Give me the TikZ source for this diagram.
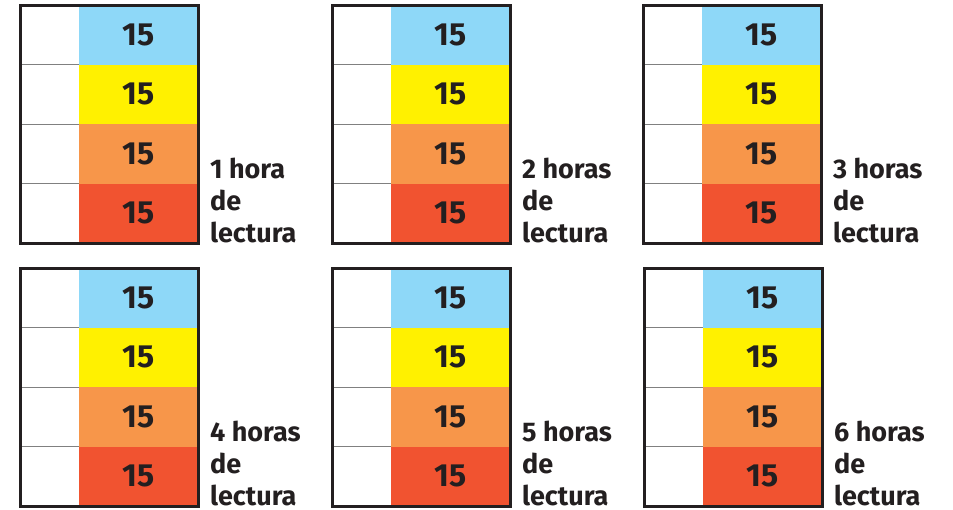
\documentclass[tikz,border=0pt]{standalone}
\usepackage{fontspec}
\setmainfont{Fira Sans}
\usetikzlibrary{positioning}
\definecolor{ink}{HTML}{231F20}
\definecolor{skyb}{HTML}{8ED8F8}
\definecolor{yel}{HTML}{FFF100}
\definecolor{ora}{HTML}{F7964A}
\definecolor{redo}{HTML}{F15330}

\begin{document}
\begin{tikzpicture}[
  x=1pt, y=-1pt,
  cell/.style={minimum width=59pt,minimum height=59.5pt,inner sep=0pt,outer sep=0pt},
  num/.style={cell,minimum width=119pt,text=ink,font=\bfseries\fontsize{32}{32}\selectfont},
  rowline/.style={draw=gray,line width=1pt},
  frame/.style={draw=ink,line width=3pt},
  hours/.style={align=left,inner sep=0pt,text=ink,font=\bfseries\fontsize{27}{32}\selectfont}
]
\useasboundingbox (0,0) rectangle (953,509);

\foreach \bx/\by/\h [count=\b] in {20/5/1 hora, 332/5/2 horas, 643/5/3 horas, 20/268/4 horas, 332/268/5 horas, 644/268/6 horas} {
  % one block of four quarters
  \foreach \r/\col in {0/skyb,1/yel,2/ora,3/redo} {
    \node[cell,anchor=north west] (w\b\r) at ({\bx},{\by+\r*59.5}) {};
    \node[num,fill=\col,right=0pt of w\b\r] (c\b\r) {15};
  }
  \foreach \r in {0,1,2}
    \draw[rowline] (w\b\r.south west) -- (w\b\r.south east);
  \draw[frame] (w\b0.north west) rectangle (c\b3.south east);
  \node[hours,anchor=north west] (l\b) at ({\bx+190},{\by+153}) {\h\\de\\lectura};
}
\end{tikzpicture}
\end{document}
